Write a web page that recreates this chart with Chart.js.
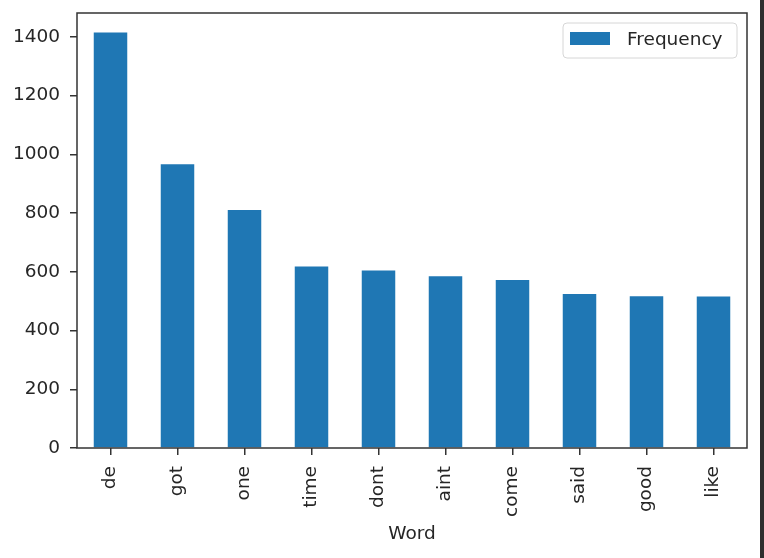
<!DOCTYPE html>
<html>
<head>
<meta charset="utf-8">
<script src="https://cdn.jsdelivr.net/npm/chart.js@4/dist/chart.umd.min.js"></script>
<style>
  html, body { margin: 0; padding: 0; background: #fff; }
  #wrap { width: 760px; height: 558px; border-right: 4px solid #2e2e2e; }
  canvas { display: block; }
</style>
</head>
<body>
<div id="wrap"><canvas id="freqChart" width="760" height="558"></canvas></div>
<script>
// word frequencies
var words = ['de', 'got', 'one', 'time', 'dont', 'aint', 'come', 'said', 'good', 'like'];
var frequency = [1415, 966, 810, 618, 604, 585, 572, 524, 517, 516];
var yTicks = [0, 200, 400, 600, 800, 1000, 1200, 1400];
var yMax = 1481;

var blue = '#1f77b4';
var ink = '#262626';
var font = { family: 'DejaVu Sans', size: 18.5 };

// matplotlib style frame + legend inside the axes
var frame = {
    id: 'frame',
    afterDraw: function(chart) {
        var ctx = chart.ctx, a = chart.chartArea;
        ctx.save();
        ctx.strokeStyle = '#333';
        ctx.lineWidth = 1.5;
        ctx.strokeRect(a.left, a.top, a.right - a.left, a.bottom - a.top);

        // legend box
        var w = 174, h = 35;
        var x = a.right - 10 - w, y = a.top + 10;
        ctx.beginPath();
        ctx.roundRect(x, y, w, h, 4);
        ctx.fillStyle = 'rgba(255,255,255,0.8)';
        ctx.fill();
        ctx.strokeStyle = '#d6d6d6';
        ctx.lineWidth = 1;
        ctx.stroke();
        ctx.fillStyle = blue;
        ctx.fillRect(x + 7, y + 9, 40, 13);
        ctx.fillStyle = ink;
        ctx.font = font.size + 'px ' + font.family;
        ctx.textBaseline = 'middle';
        ctx.fillText(chart.data.datasets[0].label, x + 64, y + h / 2);
        ctx.restore();
    }
};

var ctx = document.getElementById('freqChart').getContext('2d');
var barChart = new Chart(ctx, {
    type: 'bar',
    data: {
        labels: words,
        datasets: [{
            label: 'Frequency',
            data: frequency,
            backgroundColor: blue,
            borderWidth: 0,
            categoryPercentage: 1.0,
            barPercentage: 0.5
        }]
    },
    options: {
        responsive: false,
        animation: false,
        layout: { padding: { top: 13, right: 13, left: 0, bottom: 0 } },
        plugins: {
            legend: { display: false },
            tooltip: { enabled: false }
        },
        scales: {
            x: {
                offset: true,
                grid: { display: true, drawOnChartArea: false, drawTicks: true, tickLength: 7, offset: false, color: '#333', lineWidth: 1.5 },
                border: { display: false },
                ticks: { color: ink, font: font, minRotation: 90, maxRotation: 90, padding: 11, autoSkip: false },
                title: { display: true, text: 'Word', color: ink, font: font, padding: { top: 0, bottom: 13 } },
                afterFit: function(scale) {
                    scale.height = 110;
                    scale.paddingLeft = 0;
                    scale.paddingRight = 0;
                }
            },
            y: {
                min: 0,
                max: yMax,
                grid: { display: true, drawOnChartArea: false, drawTicks: true, tickLength: 7, color: '#333', lineWidth: 1.5 },
                border: { display: false },
                ticks: {
                    color: ink, font: font, padding: 10, includeBounds: false,
                    callback: function(v) { return String(v); }
                },
                afterBuildTicks: function(scale) {
                    scale.ticks = yTicks.map(function(v) { return { value: v }; });
                },
                afterFit: function(scale) {
                    scale.width = 77;
                    scale.paddingTop = 0;
                    scale.paddingBottom = 0;
                }
            }
        }
    },
    plugins: [frame]
});
</script>
</body>
</html>
